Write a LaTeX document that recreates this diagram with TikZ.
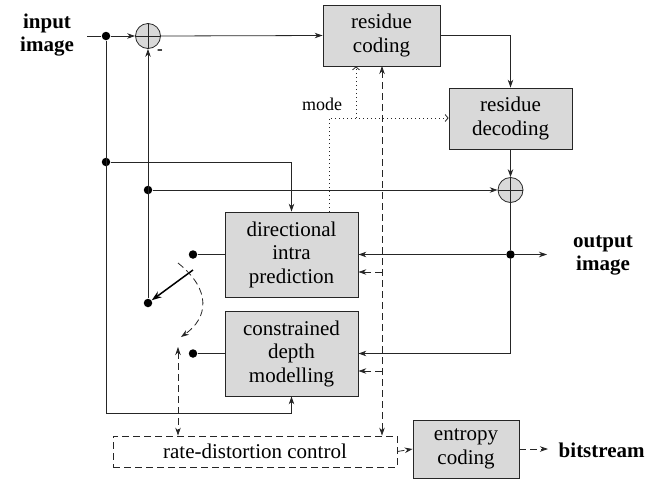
\documentclass[tikz,border=0pt]{standalone}
\usepackage{fontspec}
\setmainfont{Liberation Serif}
\usetikzlibrary{arrows.meta}
\definecolor{boxgray}{HTML}{D9D9D9}
\definecolor{linegray}{HTML}{262626}
\begin{document}
\begin{tikzpicture}[x=1pt,y=-1pt,
  line width=0.8pt,
  ln/.style={draw=linegray},
  blk/.style={draw=linegray,fill=boxgray,minimum width=#1,align=center,inner sep=0pt,
    font=\fontsize{21}{23.5}\selectfont},
  sumc/.style={circle,draw=linegray,fill=boxgray,minimum size=25pt,inner sep=0pt},
  dotn/.style={circle,fill=black,minimum size=8.5pt,inner sep=0pt},
  lbl/.style={align=center,font=\fontsize{21}{23}\selectfont\bfseries},
  tip/.style={draw=linegray,-{Stealth[length=8pt,width=5.5pt]}},
  tips/.style={draw=linegray,{Stealth[length=8pt,width=5.5pt]}-{Stealth[length=8pt,width=5.5pt]}},
  otip/.style={draw=linegray,-{Straight Barb[length=3pt,width=7pt]}},
  dsh/.style={dash pattern=on 7pt off 4pt},
  dotl/.style={dash pattern=on 1pt off 3pt}]
\useasboundingbox (0,0) rectangle (658,483);

% blocks
\node[blk=117pt,minimum height=61pt] (rc) at (381.5,35.5) {residue\\coding};
\node[blk=123pt,minimum height=61pt] (rd) at (510.5,118.5) {residue\\decoding};
\node[blk=133pt,minimum height=85pt] (dip) at (291.5,254.5) {directional\\intra\\prediction};
\node[blk=133pt,minimum height=85pt] (cdm) at (291.5,353.5) {constrained\\depth\\modelling};
\node[blk=106pt,minimum height=58pt] (ec) at (466,449) {entropy\\coding};
\node[draw=linegray,dsh,minimum width=284pt,minimum height=31pt,inner sep=0pt,
  font=\fontsize{21}{23.5}\selectfont] (rdc) at (255,451.5) {rate-distortion control};

% sums
\node[sumc] (s1) at (148,36) {};
\draw[ln] (s1.north) -- (s1.south) (s1.west) -- (s1.east);
\node[sumc] (s2) at (510.5,190) {};
\draw[ln] (s2.north) -- (s2.south) (s2.west) -- (s2.east);

% labels
\node[lbl] (inl) at (47,35) {input\\image};
\node[lbl] (outl) at (603,255) {output\\image};
\node[lbl,anchor=west] (bs) at (555,450) {bitstream};
\node[font=\fontsize{18}{20}\selectfont] (mode) at (322,104) {mode};
\node[font=\bfseries\fontsize{17}{17}\selectfont] (minus) at (160,52) {-};

% dots
\node[dotn] (d1) at (106,36) {};
\node[dotn] (d2) at (106,162) {};
\node[dotn] (d3) at (148,190) {};
\node[dotn] (d4) at (148,303) {};
\node[dotn] (d5) at (193,254.5) {};
\node[dotn] (d6) at (193,353.5) {};
\node[dotn] (d7) at (510.5,254.5) {};

\coordinate (in0) at (87,36);
\coordinate (bot) at (106,413);
\coordinate (outend) at (547,254.5);
\coordinate (cdmr) at (510.5,353.5);

% main signal path
\draw[ln] (in0) -- (d1);
\draw[tip] (d1) -- (s1.west);
\draw[tip] (s1.east) -- (rc.west);
\draw[tip] (rc.east) -| (rd.north);
\draw[tip] (rd.south) -- (s2.north);
\draw[tip] (d3) -- (s2.west);
\draw[ln] (d1) -- (bot);
\draw[tip] (bot) -| (cdm.south);
\draw[tip] (d2) -| (dip.north);
\draw[tip] (d4) -- (s1.south);
\draw[ln] (s2.south) -- (d7);
\draw[tip] (d7) -- (dip.east);
\draw[tip] (d7) -- (outend);
\draw[ln] (d7) -- (cdmr);
\draw[tip] (cdmr) -- (cdm.east);
\draw[ln] (d5) -- (dip.west);
\draw[ln] (d6) -- (cdm.west);

% switch
\coordinate (swa) at (193,270);
\draw[draw=black,line width=1.5pt,-{Stealth[length=10pt,width=7pt]}] (swa) -- (d4);
\coordinate (arc0) at (178,263);
\coordinate (arc1) at (181,337);
\draw[dsh,tip] (arc0) .. controls (212,290) and (208,318) .. (arc1);

% rate-distortion dashed control
\coordinate (rdv1) at (178,347);
\draw[dsh,tips] (rdv1) -- (rdv1 |- rdc.north);
\coordinate (rdv2) at (382,66);
\draw[dsh,tips] (rdv2) -- (rdv2 |- rdc.north);
\coordinate (br1) at (382,272);
\coordinate (br2) at (382,371);
\draw[dsh,tip] (br1) -- (br1 -| dip.east);
\draw[dsh,tip] (br2) -- (br2 -| cdm.east);

% mode dotted
\coordinate (m0) at (329,212);
\coordinate (m1) at (329,118);
\coordinate (m2) at (356,118);
\draw[dotl,otip] (m0) -- (m1) -- (m1 -| rd.west);
\draw[dotl,otip] (m2) -- (m2 |- rc.south);

% outputs
\draw[dsh,tip] (rdc.east) -- (ec.west);
\coordinate (bsend) at (548,449);
\draw[dsh,tip] (ec.east) -- (bsend);
\end{tikzpicture}
\end{document}
